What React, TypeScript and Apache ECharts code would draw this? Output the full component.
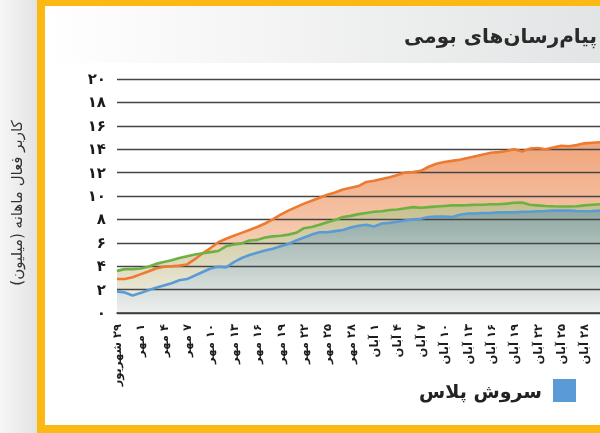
import { useEffect, useRef } from 'react';
import * as echarts from 'echarts';

const categories = [
  '۲۹ شهریور', '۳۰ شهریور', '۳۱ شهریور',
  '۱ مهر', '۲ مهر', '۳ مهر', '۴ مهر', '۵ مهر', '۶ مهر', '۷ مهر', '۸ مهر', '۹ مهر', '۱۰ مهر',
  '۱۱ مهر', '۱۲ مهر', '۱۳ مهر', '۱۴ مهر', '۱۵ مهر', '۱۶ مهر', '۱۷ مهر', '۱۸ مهر', '۱۹ مهر', '۲۰ مهر',
  '۲۱ مهر', '۲۲ مهر', '۲۳ مهر', '۲۴ مهر', '۲۵ مهر', '۲۶ مهر', '۲۷ مهر', '۲۸ مهر', '۲۹ مهر', '۳۰ مهر',
  '۱ آبان', '۲ آبان', '۳ آبان', '۴ آبان', '۵ آبان', '۶ آبان', '۷ آبان', '۸ آبان', '۹ آبان', '۱۰ آبان',
  '۱۱ آبان', '۱۲ آبان', '۱۳ آبان', '۱۴ آبان', '۱۵ آبان', '۱۶ آبان', '۱۷ آبان', '۱۸ آبان', '۱۹ آبان', '۲۰ آبان',
  '۲۱ آبان', '۲۲ آبان', '۲۳ آبان', '۲۴ آبان', '۲۵ آبان', '۲۶ آبان', '۲۷ آبان', '۲۸ آبان', '۲۹ آبان', '۳۰ آبان',
];

const seriesNames = ['روبیکا', 'ایتا', 'سروش پلاس'];

const orangeValues = [
  2.9, 2.9, 3.05, 3.3, 3.55, 3.8, 3.95, 4.0, 4.05, 4.15,
  4.6, 5.1, 5.55, 6.05, 6.35, 6.6, 6.85, 7.1, 7.35, 7.65,
  8.0, 8.4, 8.75, 9.05, 9.35, 9.6, 9.85, 10.1, 10.3, 10.55,
  10.7, 10.85, 11.2, 11.3, 11.45, 11.6, 11.8, 12.0, 12.05, 12.15,
  12.5, 12.75, 12.9, 13.0, 13.1, 13.25, 13.4, 13.55, 13.7, 13.75,
  13.85, 14.0, 13.8, 14.05, 14.1, 14.0, 14.15, 14.3, 14.25, 14.35,
  14.5, 14.55, 14.6,
];

const greenValues = [
  3.6, 3.75, 3.75, 3.8, 3.95, 4.2, 4.35, 4.5, 4.7, 4.85,
  5.0, 5.1, 5.2, 5.3, 5.7, 5.85, 5.95, 6.2, 6.25, 6.45,
  6.55, 6.6, 6.7, 6.85, 7.25, 7.35, 7.55, 7.75, 7.95, 8.2,
  8.3, 8.45, 8.55, 8.65, 8.7, 8.8, 8.85, 8.95, 9.05, 9.0,
  9.05, 9.1, 9.15, 9.2, 9.2, 9.22, 9.25, 9.25, 9.3, 9.3,
  9.35, 9.42, 9.45, 9.25, 9.2, 9.15, 9.12, 9.1, 9.1, 9.12,
  9.2, 9.25, 9.3,
];

const blueValues = [
  1.85, 1.75, 1.5, 1.7, 1.95, 2.15, 2.35, 2.55, 2.8, 2.9,
  3.2, 3.5, 3.8, 3.95, 3.9, 4.35, 4.7, 4.95, 5.15, 5.35,
  5.5, 5.7, 5.9, 6.2, 6.45, 6.7, 6.9, 6.9, 7.0, 7.1,
  7.3, 7.45, 7.55, 7.4, 7.65, 7.7, 7.8, 7.9, 8.0, 8.05,
  8.2, 8.25, 8.25, 8.2, 8.4, 8.5, 8.5, 8.55, 8.55, 8.6,
  8.6, 8.6, 8.65, 8.65, 8.7, 8.72, 8.75, 8.75, 8.75, 8.72,
  8.7, 8.72, 8.75,
];

const yTickLabels = ['۰', '۲', '۴', '۶', '۸', '۱۰', '۱۲', '۱۴', '۱۶', '۱۸', '۲۰'];

const titleText = 'پیام‌رسان‌های بومی';
const yAxisTitle = 'کاربر فعال ماهانه (میلیون)';

const FONT = "'DejaVu Sans', 'Noto Sans', sans-serif";
const rtl = (s: string) => '\u200F' + s + '\u200F';

const vgrad = (top: string, bottom: string) =>
  new echarts.graphic.LinearGradient(0, 0, 0, 1, [
    { offset: 0, color: top },
    { offset: 1, color: bottom },
  ]);
const hgrad = (left: string, right: string) =>
  new echarts.graphic.LinearGradient(0, 0, 1, 0, [
    { offset: 0, color: left },
    { offset: 1, color: right },
  ]);

export default function App() {
  const ref = useRef<HTMLDivElement>(null);
  useEffect(() => {
    document.body.style.margin = '0';
    const chart = echarts.init(ref.current!, null, { renderer: 'svg' });
    const lineColors = ['#ee7a30', '#6cb142', '#5b9bd5'];
    const values = [orangeValues, greenValues, blueValues];
    const areaFills = [
      vgrad('#f0a57a', '#fbe8dc'),
      vgrad('#c5be8c', '#f4f1e8'),
      vgrad('#8ea7a1', '#eef0ee'),
    ];
    const areaSeries = values.map((v, i) => ({
      name: 'area-' + i,
      type: 'line',
      data: v,
      symbol: 'none',
      z: 1,
      silent: true,
      lineStyle: { width: 0, opacity: 0 },
      itemStyle: { color: lineColors[i] },
      areaStyle: { color: areaFills[i], opacity: 1 },
    }));
    const lineSeries = values.map((v, i) => ({
      name: seriesNames[i],
      type: 'line',
      data: v,
      symbol: 'none',
      z: 3,
      itemStyle: { color: lineColors[i] },
      lineStyle: { color: lineColors[i], width: 2.6 },
    }));

    chart.setOption({
      animation: false,
      textStyle: { fontFamily: FONT },
      grid: { left: 117, top: 79, bottom: 120, right: -13, containLabel: false },
      legend: {
        data: [seriesNames[2]],
        right: 24,
        top: 379,
        padding: 0,
        icon: 'rect',
        itemWidth: 23,
        itemHeight: 23,
        align: 'right',
        formatter: (n: string) => rtl(n),
        textStyle: { fontSize: 19, fontWeight: 'bold', color: '#222', fontFamily: FONT, padding: [0, 6, 0, 0] },
      },
      xAxis: {
        type: 'category',
        data: categories,
        boundaryGap: false,
        z: 2,
        axisLine: { lineStyle: { color: '#3a3a3a', width: 1.6 } },
        axisTick: { show: false },
        splitLine: { show: false },
        axisLabel: {
          interval: 2,
          rotate: 90,
          margin: 11,
          fontSize: 11.5,
          fontWeight: 'bold',
          color: '#1e1e1e',
          fontFamily: FONT,
          formatter: (s: string) => rtl(s),
        },
      },
      yAxis: {
        type: 'value',
        min: 0,
        max: 20,
        interval: 2,
        z: 2,
        axisLine: { show: false },
        axisTick: { show: false },
        splitLine: { lineStyle: { color: '#454545', width: 1.3 } },
        axisLabel: {
          margin: 11,
          fontSize: 15,
          fontWeight: 'bold',
          color: '#1a1a1a',
          fontFamily: FONT,
          formatter: (v: number) => yTickLabels[Math.round(v / 2)],
        },
      },
      graphic: [
        { type: 'rect', z: -1, shape: { x: 0, y: 0, width: 37, height: 433 }, style: { fill: hgrad('#f6f6f6', '#e3e3e3') } },
        { type: 'rect', z: -1, shape: { x: 45, y: 6, width: 555, height: 57 }, style: { fill: hgrad('#ffffff', '#e3e4e5') } },
        { type: 'rect', z: 100, shape: { x: 37, y: 0, width: 8, height: 433 }, style: { fill: '#fcb813' } },
        { type: 'rect', z: 100, shape: { x: 37, y: 0, width: 563, height: 6 }, style: { fill: '#fcb813' } },
        { type: 'rect', z: 100, shape: { x: 37, y: 425, width: 563, height: 8 }, style: { fill: '#fcb813' } },
        {
          type: 'text', z: 100, x: 597, y: 36,
          style: { text: rtl(titleText), fill: '#2a2a2a', fontSize: 20, fontWeight: 'bold', fontFamily: FONT, align: 'right', verticalAlign: 'middle' },
        },
        {
          type: 'text', z: 100, x: 17, y: 203, rotation: Math.PI / 2,
          style: { text: rtl(yAxisTitle), fill: '#333', fontSize: 15, fontFamily: FONT, align: 'center', verticalAlign: 'middle' },
        },
      ],
      series: [...areaSeries, ...lineSeries],
    });
    return () => chart.dispose();
  }, []);
  return <div ref={ref} style={{ position: 'fixed', left: 0, top: 0, width: 600, height: 433 }} />;
}
